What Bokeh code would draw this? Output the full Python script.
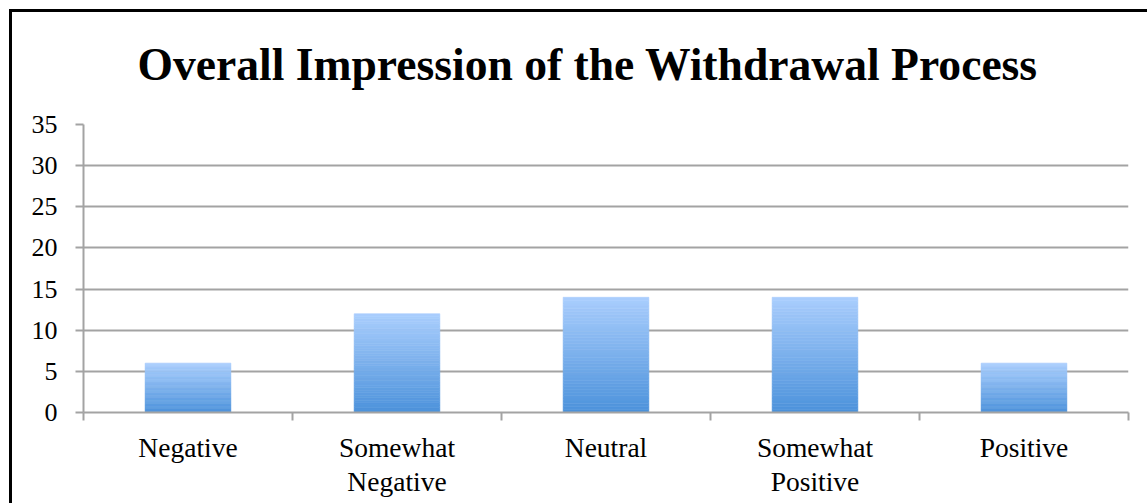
from bokeh.plotting import figure
from bokeh.models import Range1d, FixedTicker, ColumnDataSource
from bokeh.embed import file_html
from bokeh.resources import INLINE

# ---- data ----
categories = ["Negative", "Somewhat\nNegative", "Neutral", "Somewhat\nPositive", "Positive"]
values = [6, 12, 14, 14, 6]
y_ticks = [0, 5, 10, 15, 20, 25, 30, 35]
title_text = "Overall Impression of the Withdrawal Process"

# ---- styling ----
GRID = "#a3a3a3"
LIGHT = (170, 206, 253)
DARK = (76, 146, 219)
N_SLICES = 40
BAR_W = 0.41

p = figure(width=1160, height=520,
           x_range=Range1d(0, len(categories)), y_range=Range1d(0, max(y_ticks)),
           output_backend="svg", toolbar_location=None,
           min_border_left=83, min_border_right=32,
           min_border_top=124, min_border_bottom=108)

# chart border (left and top edges) painted as CSS background behind a transparent canvas
p.styles = {"position": "fixed", "left": "0px", "top": "0px",
            "background-color": "white",
            "background-image": "linear-gradient(black, black), linear-gradient(black, black)",
            "background-position": "9px 9px, 9px 9px",
            "background-size": "3px 3000px, 3000px 3px",
            "background-repeat": "no-repeat, no-repeat"}

p.outline_line_color = None
p.background_fill_color = "white"
p.border_fill_color = None

# title
p.title.text = title_text
p.title.align = "left"
p.title.offset = 54
p.title.standoff = 70
p.title.text_font = "Liberation Serif"
p.title.text_font_style = "bold"
p.title.text_font_size = "45.6px"
p.title.text_color = "black"

# gradient bars built from data
xs, bottoms, tops, colors = [], [], [], []
for i, v in enumerate(values):
    for k in range(N_SLICES):
        f0 = k / N_SLICES
        f1 = (k + 1) / N_SLICES
        fm = (f0 + f1) / 2
        c = tuple(int(round(DARK[j] + (LIGHT[j] - DARK[j]) * fm)) for j in range(3))
        xs.append(i + 0.5)
        bottoms.append(v * f0)
        tops.append(v * f1)
        colors.append("#%02x%02x%02x" % c)
src = ColumnDataSource(dict(x=xs, bottom=bottoms, top=tops, color=colors))
p.vbar(x="x", bottom="bottom", top="top", width=BAR_W, fill_color="color",
       line_color="color", line_width=0.6, source=src)

# x axis
xa = p.xaxis[0]
xa.ticker = FixedTicker(ticks=[i + 0.5 for i in range(len(categories))],
                        minor_ticks=list(range(len(categories) + 1)))
xa.major_label_overrides = {i + 0.5: c for i, c in enumerate(categories)}
xa.major_tick_out = 0
xa.major_tick_in = 0
xa.minor_tick_out = 8
xa.minor_tick_in = 0
xa.minor_tick_line_color = GRID
xa.minor_tick_line_width = 2
xa.axis_line_color = GRID
xa.axis_line_width = 2
xa.major_label_standoff = 11
xa.major_label_text_font = "Liberation Serif"
xa.major_label_text_font_size = "27.5px"
xa.major_label_text_line_height = 1.1
xa.major_label_text_color = "black"

# y axis
ya = p.yaxis[0]
ya.ticker = FixedTicker(ticks=y_ticks)
ya.major_tick_out = 8
ya.major_tick_in = 0
ya.major_tick_line_color = GRID
ya.major_tick_line_width = 2
ya.minor_tick_line_color = None
ya.axis_line_color = GRID
ya.axis_line_width = 2
ya.major_label_standoff = 18
ya.major_label_text_font = "Liberation Serif"
ya.major_label_text_font_size = "26px"
ya.major_label_text_color = "black"

p.xgrid.grid_line_color = None
p.ygrid.ticker = FixedTicker(ticks=y_ticks)
p.ygrid.grid_line_color = GRID
p.ygrid.grid_line_width = 2

open("out.html", "w").write(file_html(p, INLINE))
